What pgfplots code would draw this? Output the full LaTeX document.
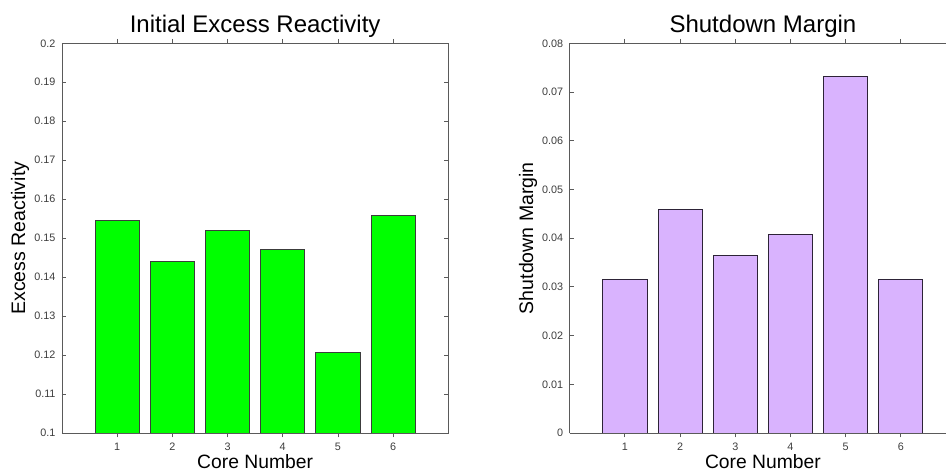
\documentclass[border=0pt]{standalone}
\usepackage{pgfplots}
\pgfplotsset{compat=1.18}
\usepackage{fontspec}
\setmainfont{Liberation Sans}
\definecolor{barGreen}{RGB}{0,255,0}
\definecolor{barPurple}{RGB}{217,179,254}
\definecolor{axGray}{RGB}{90,90,90}
\definecolor{tickText}{RGB}{60,60,60}
\pgfplotsset{
  mybase/.style={
    scale only axis,
    height=389.7pt,
    anchor=south west,
    xmin=0,
    xtick={1,2,3,4,5,6},
    tick align=inside,
    major tick length=4.3pt,
    axis line style={axGray, line width=0.9pt},
    every tick/.style={axGray, line width=0.8pt},
    scaled y ticks=false,
    /pgf/number format/assume math mode=true,
    /pgf/number format/fixed,
    /pgf/number format/precision=2,
    ticklabel style={font=\fontsize{10.8}{12}\selectfont, text=tickText},
    xticklabel style={anchor=base, inner sep=0pt, yshift=-13.7pt},
    yticklabel style={anchor=east, inner sep=0pt, xshift=-6.3pt},
    title style={font=\fontsize{24}{28}\selectfont, anchor=base, yshift=5pt},
    xlabel style={font=\fontsize{19.3}{23}\selectfont, anchor=base, yshift=-35.3pt},
    ylabel style={font=\fontsize{19.5}{23}\selectfont, anchor=base},
    ybar, bar width=0.8,
    xlabel={Core Number},
  }
}
\begin{document}
\begin{tikzpicture}
\useasboundingbox (0,0) rectangle (946pt,471pt);
\begin{axis}[mybase,
  at={(62pt,38pt)},
  width=386.3pt, xmax=7,
  tick pos=both,
  ymin=0.1, ymax=0.2,
  ytick={0.1,0.11,0.12,0.13,0.14,0.15,0.16,0.17,0.18,0.19,0.2},
  title={Initial Excess Reactivity},
  title style={at={(axis description cs:0.5,1)}},
  xlabel style={at={(axis description cs:0.5,0)}},
  ylabel={Excess Reactivity},
  ylabel style={at={([xshift=-36.8pt]axis description cs:0,0.5)}},
]
\addplot[fill=barGreen, draw={rgb,255:red,60;green,60;blue,60}, line width=0.9pt] coordinates {
  (1,0.1545) (2,0.1441) (3,0.1520) (4,0.1472) (5,0.1206) (6,0.1559)
};
\end{axis}
\begin{axis}[mybase,
  at={(569.7pt,38pt)},
  width=376.3pt, xmax=6.8185,
  separate axis lines,
  axis x line*=box,
  axis y line*=left,
  xtick pos=both,
  ytick pos=left,
  ymin=0, ymax=0.08,
  ytick={0,0.01,0.02,0.03,0.04,0.05,0.06,0.07,0.08},
  title={Shutdown Margin},
  title style={at={(axis description cs:0.5135,1)}},
  xlabel style={at={(axis description cs:0.5135,0)}},
  ylabel={Shutdown Margin},
  ylabel style={at={([xshift=-36.5pt]axis description cs:0,0.5)}},
]
\addplot[fill=barPurple, draw={rgb,255:red,45;green,35;blue,55}, line width=0.9pt] coordinates {
  (1,0.03159) (2,0.04581) (3,0.03638) (4,0.04082) (5,0.07316) (6,0.03159)
};
\end{axis}
\end{tikzpicture}
\end{document}
